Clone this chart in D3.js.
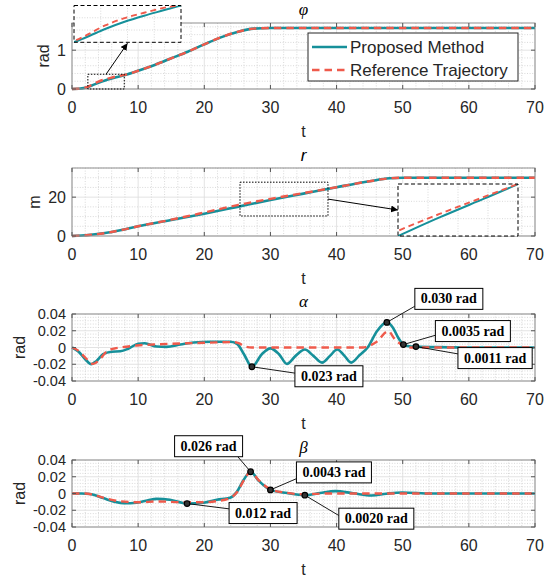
<!DOCTYPE html>
<html lang="en">
<head>
<meta charset="utf-8">
<title>Tracking results</title>
<script src="https://d3js.org/d3.v7.min.js"></script>
<style>
  body { margin: 0; background: #fff; }
  .minor { stroke: #cfcfcf; stroke-width: 0.8; stroke-dasharray: 1 1.6; }
  .major { stroke: #dcdcdc; stroke-width: 0.8; }
  .frame { fill: none; stroke: #8f8f8f; stroke-width: 1; }
  .tick { stroke: #555; stroke-width: 1; }
  .tlabel { font-family: "Liberation Sans", Arial, sans-serif; font-size: 16px; fill: #262626; }
  .title { font-family: "Liberation Serif", "Times New Roman", serif; font-style: italic; font-size: 17px; fill: #000; }
  .pro { fill: none; stroke: #16909a; stroke-width: 2.6; }
  .ref { fill: none; stroke: #ef5a4b; stroke-width: 2.4; stroke-dasharray: 7.5 5; }
  .callout text { font-family: "Liberation Serif", "Times New Roman", serif; font-weight: bold; font-size: 14px; fill: #000; }
  .callout rect { fill: #fff; stroke: #000; stroke-width: 1; }
  .callout line { stroke: #000; stroke-width: 0.9; }
  .callout circle { fill: #333; stroke: #000; stroke-width: 1.2; }
</style>
</head>
<body>
<div id="container"></div>
<script>
// ---- data ----
const xTicks = [0, 10, 20, 30, 40, 50, 60, 70];

const phiT   = [0, 1, 2, 3, 4, 5, 6, 7, 8, 10, 12.5, 15, 17.5, 20, 22.5, 25, 27.5, 30, 32, 70];
const phiPro = [0, 0.005, 0.03, 0.09, 0.16, 0.22, 0.27, 0.315, 0.36, 0.47, 0.62, 0.79, 0.96, 1.15, 1.33, 1.47, 1.555, 1.571, 1.571, 1.571];
const phiRef = [0, 0.005, 0.035, 0.105, 0.19, 0.25, 0.295, 0.335, 0.365, 0.47, 0.62, 0.79, 0.96, 1.15, 1.33, 1.47, 1.555, 1.571, 1.571, 1.571];
const phiTicks = [0, 1];
const phiTickLabels = ["0", "1"];

const rT   = [0, 2.5, 5, 7.5, 10, 15, 20, 25, 30, 35, 40, 45, 48, 50, 52, 70];
const rPro = [0, 0.5, 1.5, 3.1, 5.0, 8.2, 11.5, 15.0, 18.5, 21.8, 25.1, 28.2, 29.7, 30, 30, 30];
const rRef = [0, 0.5, 1.5, 3.1, 5.0, 8.4, 12.1, 15.9, 19.1, 22.1, 25.1, 28.2, 29.7, 30, 30, 30];
const rTicks = [0, 20];
const rTickLabels = ["0", "20"];

const alphaT   = [0, 1, 2, 2.9, 3.7, 4.7, 6, 7.3, 8.5, 10, 11, 12.8, 14.3, 16.4, 18.4, 21, 24, 25, 26, 27.2, 28.7, 30, 31.3, 32.5, 33.8, 35.2, 36.5, 37.8, 39, 40.1, 41.2, 42.2, 43.5, 44.7, 46.1, 47.6, 48.5, 49.3, 50.1, 51, 52, 55, 60, 70];
const alphaPro = [0, -0.005, -0.014, -0.020, -0.016, -0.008, -0.005, -0.0045, -0.0015, 0.0045, 0.005, 0.0012, 0.0008, 0.0035, 0.006, 0.0068, 0.0068, 0.004, -0.008, -0.023, -0.008, -0.001, -0.008, -0.0196, -0.010, -0.0024, -0.010, -0.018, -0.010, -0.0024, -0.010, -0.018, -0.009, 0, 0.0195, 0.030, 0.024, 0.012, 0.0035, 0.0015, 0.0011, 0.0004, 0, 0];
const alphaRefT = [0, 1, 2, 3.2, 4.2, 5.3, 6.5, 7.3, 9.8, 12.3, 14.8, 17.4, 19.9, 24.4, 25.3, 26, 27.2, 44, 44.6, 46.1, 47.8, 48.8, 50, 51, 70];
const alphaRef  = [0, -0.004, -0.012, -0.0196, -0.014, -0.0044, -0.001, 0, 0.0024, 0.0036, 0.0044, 0.005, 0.0056, 0.0064, 0.005, 0.0016, 0, 0, 0.001, 0.007, 0.0195, 0.010, 0.0027, 0, 0];
const alphaMarkT = [47.6, 50.1, 52.0, 27.2];
const alphaMarkV = [0.030, 0.0035, 0.0011, -0.023];
const alphaMarkLabels = ["0.030 rad", "0.0035 rad", "0.0011 rad", "0.023 rad"];

const betaT   = [0, 1.5, 2.7, 4.7, 6.5, 7.8, 9.8, 11.5, 12.8, 14.8, 17.4, 19.9, 21.9, 23.9, 24.9, 25.9, 27.0, 28.2, 30.0, 32.5, 35.2, 37.5, 39.8, 42.5, 45.3, 47.5, 49.9, 54.4, 70];
const betaPro = [0, 0, -0.0005, -0.0055, -0.010, -0.0116, -0.011, -0.008, -0.0064, -0.0075, -0.012, -0.011, -0.0075, -0.005, 0.0016, 0.0155, 0.026, 0.0155, 0.0043, 0.0005, -0.002, 0.0005, 0.0028, 0.0003, -0.0024, -0.0003, 0.0012, 0, 0];
const betaRefT = [0, 2, 4.7, 7, 10, 13, 17, 20, 22, 24, 25, 26, 27, 28.2, 30, 32.5, 35, 38, 70];
const betaRef  = [0, 0, -0.005, -0.009, -0.0105, -0.0095, -0.0105, -0.0105, -0.009, -0.005, 0.002, 0.016, 0.026, 0.016, 0.005, 0.0008, -0.001, 0, 0];
const betaMarkT = [27.0, 30.0, 17.4, 35.2];
const betaMarkV = [0.026, 0.0043, -0.012, -0.002];
const betaMarkLabels = ["0.026 rad", "0.0043 rad", "0.012 rad", "0.0020 rad"];

const angTicks = [-0.04, -0.02, 0, 0.02, 0.04];
const angTickLabels = ["-0.04", "-0.02", "0", "0.02", "0.04"];

const legendLabels = ["Proposed Method", "Reference Trajectory"];

// ---- layout ----
const w = 550, h = 580;
const left = 72, right = 535;
const svg = d3.select("#container").append("svg").attr("width", w).attr("height", h);
svg.append("rect").attr("width", w).attr("height", h).attr("fill", "#fff");

const defs = svg.append("defs");
defs.append("marker").attr("id", "arrow").attr("viewBox", "0 0 10 10")
    .attr("refX", 10).attr("refY", 5).attr("markerWidth", 7).attr("markerHeight", 7)
    .attr("orient", "auto")
    .append("path").attr("d", "M0,0 L10,5 L0,10 z").attr("fill", "#000");

const x = d3.scaleLinear().domain([0, 70]).range([left, right]);

const zip = (a, b) => a.map((v, i) => [v, b[i]]);

function drawPanel(p) {
    const g = svg.append("g");
    const y = d3.scaleLinear().domain(p.yDomain).range([p.bottom, p.top]);
    const near = (arr, v) => arr.some(t => Math.abs(t - v) < 1e-9);

    const xMinor = d3.range(0, 70.001, 2).filter(v => !near(xTicks, v));
    const yMinor = d3.range(p.yDomain[0], p.yDomain[1] + 1e-9, p.yMinor).filter(v => !near(p.yTicks, v));

    g.selectAll(null).data(xMinor).enter().append("line").attr("class", "minor")
        .attr("x1", d => x(d)).attr("x2", d => x(d)).attr("y1", p.top).attr("y2", p.bottom);
    g.selectAll(null).data(yMinor).enter().append("line").attr("class", "minor")
        .attr("x1", left).attr("x2", right).attr("y1", d => y(d)).attr("y2", d => y(d));
    g.selectAll(null).data(xTicks).enter().append("line").attr("class", "major")
        .attr("x1", d => x(d)).attr("x2", d => x(d)).attr("y1", p.top).attr("y2", p.bottom);
    g.selectAll(null).data(p.yTicks).enter().append("line").attr("class", "major")
        .attr("x1", left).attr("x2", right).attr("y1", d => y(d)).attr("y2", d => y(d));

    const line = d3.line().x(d => x(d[0])).y(d => y(d[1])).curve(d3.curveMonotoneX);
    g.append("path").attr("class", "pro").attr("d", line(p.pro));
    g.append("path").attr("class", "ref").attr("d", line(p.ref));

    g.append("rect").attr("class", "frame")
        .attr("x", left).attr("y", p.top).attr("width", right - left).attr("height", p.bottom - p.top);

    // inward ticks on all four sides
    xTicks.forEach(v => {
        g.append("line").attr("class", "tick").attr("x1", x(v)).attr("x2", x(v)).attr("y1", p.bottom).attr("y2", p.bottom - 4);
        g.append("line").attr("class", "tick").attr("x1", x(v)).attr("x2", x(v)).attr("y1", p.top).attr("y2", p.top + 4);
    });
    p.yTicks.forEach(v => {
        g.append("line").attr("class", "tick").attr("x1", left).attr("x2", left + 4).attr("y1", y(v)).attr("y2", y(v));
        g.append("line").attr("class", "tick").attr("x1", right).attr("x2", right - 4).attr("y1", y(v)).attr("y2", y(v));
    });

    g.selectAll(null).data(xTicks).enter().append("text").attr("class", "tlabel")
        .attr("x", d => x(d)).attr("y", p.bottom + 24).attr("text-anchor", "middle").text(d => d);
    let maxW = 0;
    g.selectAll(null).data(p.yTicks).enter().append("text").attr("class", "tlabel")
        .style("font-size", p.yTickSize + "px")
        .attr("x", left - 6).attr("y", d => y(d)).attr("dy", "0.35em").attr("text-anchor", "end")
        .text((d, i) => p.yTickLabels[i])
        .each(function () { maxW = Math.max(maxW, this.getComputedTextLength()); });

    g.append("text").attr("class", "tlabel").attr("text-anchor", "middle")
        .attr("transform", `translate(${Math.max(12, left - 6 - maxW - 14)},${(p.top + p.bottom) / 2}) rotate(-90)`)
        .attr("dy", "0.35em").text(p.ylabel);
    g.append("text").attr("class", "tlabel").attr("text-anchor", "middle")
        .attr("x", (left + right) / 2).attr("y", p.bottom + 48).text("t");
    g.append("text").attr("class", "title").attr("text-anchor", "middle")
        .attr("x", (left + right) / 2).attr("y", p.titleY)
        .style("font-family", p.titleSans ? "'Liberation Sans', Arial, sans-serif" : null)
        .text(p.title);
    return y;
}

function drawZoom(y, zoom, box, pro, ref, id, arrowFrom, arrowTo) {
    // dotted region marker on the main axes
    svg.append("rect").attr("x", x(zoom.t[0])).attr("y", y(zoom.v[1]))
        .attr("width", x(zoom.t[1]) - x(zoom.t[0])).attr("height", y(zoom.v[0]) - y(zoom.v[1]))
        .attr("fill", "none").attr("stroke", "#000").attr("stroke-width", 1).attr("stroke-dasharray", "1.5 1.5");

    const ix = d3.scaleLinear().domain(zoom.t).range([box.x0, box.x1]);
    const iy = d3.scaleLinear().domain(zoom.iv).range([box.y1, box.y0]);
    const g = svg.append("g");
    g.append("rect").attr("x", box.x0).attr("y", box.y0).attr("width", box.x1 - box.x0).attr("height", box.y1 - box.y0).attr("fill", "#fff");
    [0.25, 0.5, 0.75].forEach(f => {
        g.append("line").attr("class", "minor").attr("x1", box.x0 + f * (box.x1 - box.x0)).attr("x2", box.x0 + f * (box.x1 - box.x0))
            .attr("y1", box.y0).attr("y2", box.y1);
    });
    [1 / 3, 2 / 3].forEach(f => {
        g.append("line").attr("class", "minor").attr("y1", box.y0 + f * (box.y1 - box.y0)).attr("y2", box.y0 + f * (box.y1 - box.y0))
            .attr("x1", box.x0).attr("x2", box.x1);
    });
    defs.append("clipPath").attr("id", id).append("rect")
        .attr("x", box.x0).attr("y", box.y0).attr("width", box.x1 - box.x0).attr("height", box.y1 - box.y0);
    const line = d3.line().x(d => ix(d[0])).y(d => iy(d[1])).curve(d3.curveMonotoneX);
    g.append("path").attr("class", "pro").attr("clip-path", `url(#${id})`).attr("d", line(pro)).style("stroke-width", 2);
    g.append("path").attr("class", "ref").attr("clip-path", `url(#${id})`).attr("d", line(ref))
        .style("stroke-width", 1.9).style("stroke-dasharray", "6 4");
    g.append("rect").attr("x", box.x0).attr("y", box.y0).attr("width", box.x1 - box.x0).attr("height", box.y1 - box.y0)
        .attr("fill", "none").attr("stroke", "#000").attr("stroke-width", 1).attr("stroke-dasharray", "4 2.5");

    svg.append("line").attr("x1", arrowFrom[0]).attr("y1", arrowFrom[1]).attr("x2", arrowTo[0]).attr("y2", arrowTo[1])
        .attr("stroke", "#000").attr("stroke-width", 1).attr("marker-end", "url(#arrow)");
}

function drawCallouts(y, ts, vs, labels, layout) {
    ts.forEach((t, i) => {
        const px = x(t), py = y(vs[i]);
        const L = layout[i];
        const bx = px + L.dx, by = py + L.dy;
        const g = svg.append("g").attr("class", "callout");
        const ln = g.append("line");
        const rc = g.append("rect");
        const tx = g.append("text").attr("x", bx + 6).attr("y", by + 15).text(labels[i]);
        const bw = tx.node().getComputedTextLength() + 12, bh = 21;
        rc.attr("x", bx).attr("y", by).attr("width", bw).attr("height", bh);
        ln.attr("x1", px).attr("y1", py).attr("x2", bx + L.fx * bw).attr("y2", by + L.fy * bh);
        g.append("circle").attr("cx", px).attr("cy", py).attr("r", 2.8);
    });
}

// ---- panels ----
const yPhi = drawPanel({ top: 23, bottom: 89, yDomain: [0, 1.7], yTicks: phiTicks, yTickLabels: phiTickLabels, yTickSize: 16,
    yMinor: 0.2, ylabel: "rad", title: "φ", titleY: 15, pro: zip(phiT, phiPro), ref: zip(phiT, phiRef) });
const yR = drawPanel({ top: 168, bottom: 236, yDomain: [0, 35], yTicks: rTicks, yTickLabels: rTickLabels, yTickSize: 16,
    yMinor: 5, ylabel: "m", title: "r", titleY: 161, titleSans: true, pro: zip(rT, rPro), ref: zip(rT, rRef) });
const yAlpha = drawPanel({ top: 314, bottom: 381, yDomain: [-0.04, 0.04], yTicks: angTicks, yTickLabels: angTickLabels, yTickSize: 14.5,
    yMinor: 0.004, ylabel: "rad", title: "α", titleY: 307, pro: zip(alphaT, alphaPro), ref: zip(alphaRefT, alphaRef) });
const yBeta = drawPanel({ top: 460, bottom: 527, yDomain: [-0.04, 0.04], yTicks: angTicks, yTickLabels: angTickLabels, yTickSize: 14.5,
    yMinor: 0.004, ylabel: "rad", title: "β", titleY: 453, pro: zip(betaT, betaPro), ref: zip(betaRefT, betaRef) });

// ---- zoom insets ----
const phiZoom = { t: [2.4, 7.9], v: [0, 0.38], iv: [0.05, 0.355] };
const phiBox = { x0: 74, x1: 181, y0: 5.5, y1: 42.3 };
drawZoom(yPhi, phiZoom, phiBox, zip(phiT, phiPro), zip(phiT, phiRef), "clipPhi",
    [x((phiZoom.t[0] + phiZoom.t[1]) / 2), yPhi(phiZoom.v[1])], [(phiBox.x0 + phiBox.x1) / 2, phiBox.y1 + 1]);

const rZoom = { t: [25.4, 38.7], v: [10.3, 27.7], iv: [15.28, 24.3] };
const rBox = { x0: 398, x1: 518, y0: 184, y1: 236 };
drawZoom(yR, rZoom, rBox, zip(rT, rPro), zip(rT, rRef), "clipR",
    [x(rZoom.t[1]), yR((rZoom.v[0] + rZoom.v[1]) / 2)], [rBox.x0, (rBox.y0 + rBox.y1) / 2]);

// ---- legend ----
const lg = svg.append("g");
lg.append("rect").attr("x", 308).attr("y", 33).attr("width", 210).attr("height", 48)
    .attr("fill", "#fff").attr("stroke", "#262626").attr("stroke-width", 1);
["pro", "ref"].forEach((cls, i) => {
    const yy = 47 + i * 23;
    lg.append("line").attr("class", cls).attr("x1", 312).attr("x2", 347).attr("y1", yy).attr("y2", yy);
    lg.append("text").attr("class", "tlabel").attr("x", 350).attr("y", yy).attr("dy", "0.35em")
        .style("font-size", "17px").text(legendLabels[i]);
});

// ---- callouts ----
drawCallouts(yAlpha, alphaMarkT, alphaMarkV, alphaMarkLabels, [
    { dx: 28, dy: -34, fx: 0, fy: 0.85 },
    { dx: 32, dy: -24, fx: 0, fy: 0.7 },
    { dx: 42, dy: 1, fx: 0, fy: 0.3 },
    { dx: 43, dy: -1, fx: 0, fy: 0.35 }
]);
drawCallouts(yBeta, betaMarkT, betaMarkV, betaMarkLabels, [
    { dx: -76, dy: -36, fx: 0.93, fy: 1 },
    { dx: 26, dy: -28, fx: 0, fy: 0.8 },
    { dx: 42, dy: -1, fx: 0, fy: 0.3 },
    { dx: 34, dy: 13, fx: 0, fy: 0.35 }
]);
</script>
</body>
</html>
